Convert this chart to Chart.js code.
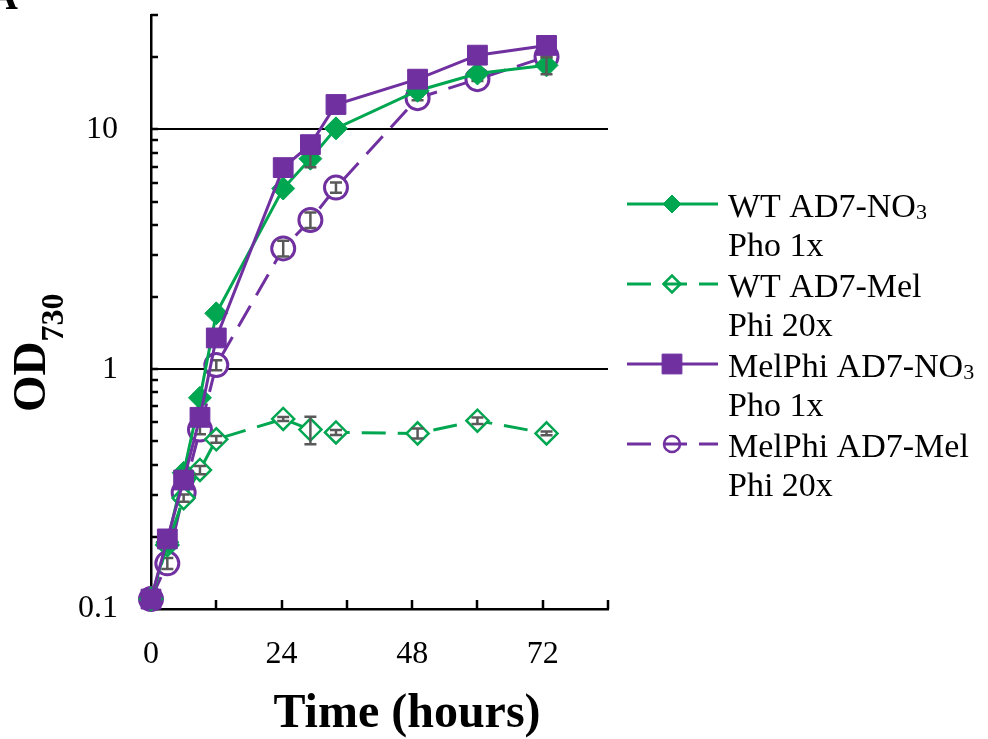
<!DOCTYPE html>
<html>
<head>
<meta charset="utf-8">
<script src="https://cdn.jsdelivr.net/npm/chart.js@4/dist/chart.umd.min.js"></script>
<style>
html,body{margin:0;padding:0;background:#fff;}
#wrap{width:988px;height:739px;position:relative;}
</style>
</head>
<body>
<div id="wrap"><canvas id="c" width="988" height="739"></canvas></div>
<script>
// ---- data ----
const hours    = [0, 3, 6, 9, 12, 24.3, 29.3, 34, 49, 60, 72.7];
const wtNO3    = [0.11, 0.19, 0.37, 0.76, 1.71, 5.67, 7.55, 10.1, 14.5, 17.1, 18.5];
const wtNO3Err = [0, 0, 0, 0, 0, 0, 0.6, 0, 0, 0, 1.5];
const wtMel    = [0.11, 0.185, 0.29, 0.38, 0.51, 0.62, 0.56, 0.545, 0.54, 0.61, 0.54];
const wtMelErr = [0, 0.005, 0.01, 0.015, 0.016, 0.012, 0.073, 0.013, 0.026, 0.019, 0.01];
const mpNO3    = [0.11, 0.196, 0.345, 0.63, 1.35, 6.93, 8.64, 12.7, 16.2, 20.4, 22.4];
const mpNO3Err = [0, 0, 0, 0, 0, 0, 0, 0, 0, 0, 0];
const mpMel    = [0.11, 0.155, 0.306, 0.56, 1.04, 3.19, 4.19, 5.72, 13.5, 16.2, 20.1];
const mpMelErr = [0, 0.008, 0.015, 0.025, 0.05, 0.24, 0.31, 0.28, 0.26, 0.3, 0.2];

const xTicks      = [0, 12, 24, 36, 48, 60, 72, 84];
const xTickLabels = ['0', '', '24', '', '48', '', '72', ''];
const yTicks      = [0.1,0.2,0.3,0.4,0.5,0.6,0.7,0.8,0.9,1,2,3,4,5,6,7,8,9,10,20,30];
const yTickLabels = {0.1:'0.1', 1:'1', 10:'10'};
const yGridValues = [1, 10];

const legendLabels = [
  ['WT AD7-NO₃', 'Pho 1x'],
  ['WT AD7-Mel', 'Phi 20x'],
  ['MelPhi AD7-NO₃', 'Pho 1x'],
  ['MelPhi AD7-Mel', 'Phi 20x']
];
const xTitle = 'Time (hours)';
const yTitleMain = 'OD';
const yTitleSub = '730';
const panelLetter = 'A';

// ---- styles ----
const GREEN = '#00A650';
const PURPLE = '#7030A0';
const ERRC = '#595959';
const SERIF = '"Liberation Serif", "Times New Roman", serif';

const valueSets = [wtNO3, wtMel, mpNO3, mpMel];
const errorSets = [wtNO3Err, wtMelErr, mpNO3Err, mpMelErr];
const toPts = arr => hours.map((h, i) => ({x: h, y: arr[i]}));

const styles = [
  {color: GREEN, dash: [], pointStyle: 'rectRot', r: 11.5, fill: GREEN, bw: 1, lr: 9, lbw: 1, lfill: GREEN, order: 2},
  {color: GREEN, dash: [24, 12], pointStyle: 'rectRot', r: 11, fill: '#ffffff', bw: 2.5, lr: 8.5, lbw: 2.5, lfill: 'rgba(0,0,0,0)', order: 3},
  {color: PURPLE, dash: [], pointStyle: 'rect', r: 14, fill: PURPLE, bw: 1, lr: 14, lbw: 1, lfill: PURPLE, order: 1},
  {color: PURPLE, dash: [24, 12], pointStyle: 'circle', r: 11.5, fill: '#ffffff', bw: 3, lr: 8, lbw: 2.5, lfill: 'rgba(0,0,0,0)', order: 4}
];

const datasets = valueSets.map((vals, i) => {
  const s = styles[i];
  return {
    label: legendLabels[i].join(' '),
    data: toPts(vals),
    borderColor: s.color,
    backgroundColor: s.color,
    borderWidth: 3,
    borderDash: s.dash,
    tension: 0,
    pointStyle: s.pointStyle,
    pointRadius: s.r,
    pointHoverRadius: s.r,
    pointBackgroundColor: s.fill,
    pointBorderColor: s.color,
    pointBorderWidth: s.bw,
    order: s.order,
    clip: false
  };
});

function drawTextWithSub(ctx, text, x, y, size) {
  const subMap = {'₀':'0','₁':'1','₂':'2','₃':'3','₄':'4','₅':'5','₆':'6','₇':'7','₈':'8','₉':'9'};
  let cx = x;
  for (const ch of text) {
    if (subMap[ch]) {
      ctx.font = `${Math.round(size * 0.66)}px ${SERIF}`;
      ctx.fillText(subMap[ch], cx, y + 2);
      cx += ctx.measureText(subMap[ch]).width;
    } else {
      ctx.font = `${size}px ${SERIF}`;
      ctx.fillText(ch, cx, y);
      cx += ctx.measureText(ch).width;
    }
  }
}

const customPlugin = {
  id: 'custom',
  beforeDatasetsDraw(chart) {
    const ctx = chart.ctx, xs = chart.scales.x, ys = chart.scales.y, a = chart.chartArea;
    ctx.save();
    ctx.strokeStyle = '#000';
    ctx.lineWidth = 2.5;
    ctx.beginPath();
    xTicks.forEach(v => {
      if (v === 0) return;
      const px = Math.round(xs.getPixelForValue(v));
      ctx.moveTo(px, a.bottom);
      ctx.lineTo(px, a.bottom - 9);
    });
    yTicks.forEach(v => {
      const py = Math.round(ys.getPixelForValue(v));
      ctx.moveTo(a.left, py);
      ctx.lineTo(a.left + 7, py);
    });
    ctx.stroke();
    ctx.restore();
  },
  afterDatasetDraw(chart, args) {
    const i = args.index;
    const errs = errorSets[i];
    const vals = valueSets[i];
    const ctx = chart.ctx, ys = chart.scales.y;
    ctx.save();
    ctx.strokeStyle = ERRC;
    ctx.lineWidth = 2.5;
    args.meta.data.forEach((pt, j) => {
      const e = errs[j];
      if (!e) return;
      const y1 = ys.getPixelForValue(vals[j] + e);
      const y2 = ys.getPixelForValue(vals[j] - e);
      const x = pt.x;
      ctx.beginPath();
      ctx.moveTo(x, y1); ctx.lineTo(x, y2);
      ctx.moveTo(x - 6, y1); ctx.lineTo(x + 6, y1);
      ctx.moveTo(x - 6, y2); ctx.lineTo(x + 6, y2);
      ctx.stroke();
    });
    ctx.restore();
  },
  afterDraw(chart) {
    const ctx = chart.ctx;
    ctx.save();
    ctx.fillStyle = '#000';
    const x0 = 627, x1 = 718, mx = 672, tx = 728;
    legendLabels.forEach((lines, i) => {
      const s = styles[i];
      const base = 217 + i * 80;
      const ly = base - 13;
      ctx.save();
      ctx.strokeStyle = s.color;
      ctx.lineWidth = 3;
      ctx.setLineDash(s.dash);
      ctx.beginPath();
      ctx.moveTo(x0, ly); ctx.lineTo(x1, ly);
      ctx.stroke();
      ctx.setLineDash([]);
      ctx.fillStyle = s.lfill;
      ctx.strokeStyle = s.color;
      ctx.lineWidth = s.lbw;
      Chart.helpers.drawPoint(ctx, {pointStyle: s.pointStyle, radius: s.lr, borderWidth: s.lbw, rotation: 0}, mx, ly);
      ctx.restore();
      ctx.fillStyle = '#000';
      ctx.textAlign = 'left';
      ctx.textBaseline = 'alphabetic';
      lines.forEach((t, k) => drawTextWithSub(ctx, t, tx, base + k * 39, 34));
    });
    ctx.font = `bold 48px ${SERIF}`;
    ctx.textAlign = 'center';
    ctx.textBaseline = 'alphabetic';
    ctx.fillText(xTitle, 407, 727);
    ctx.save();
    ctx.translate(45, 412);
    ctx.rotate(-Math.PI / 2);
    ctx.textAlign = 'left';
    ctx.font = `bold 47px ${SERIF}`;
    ctx.fillText(yTitleMain, 0, 0);
    const w = ctx.measureText(yTitleMain).width;
    ctx.font = `bold 32px ${SERIF}`;
    ctx.fillText(yTitleSub, w, 18);
    ctx.restore();
    ctx.font = `bold 40px ${SERIF}`;
    ctx.textAlign = 'left';
    ctx.fillText(panelLetter, -11, 9);
    ctx.restore();
  }
};

new Chart(document.getElementById('c'), {
  type: 'line',
  data: {datasets},
  plugins: [customPlugin],
  options: {
    responsive: false,
    animation: false,
    events: [],
    layout: {padding: {left: 0, top: 12, right: 380, bottom: 0}},
    plugins: {legend: {display: false}, tooltip: {enabled: false}, title: {display: false}},
    scales: {
      x: {
        type: 'linear',
        min: 0, max: 84,
        afterBuildTicks: sc => { sc.ticks = xTicks.map(v => ({value: v})); },
        afterFit: sc => { sc.height = 130; sc.paddingLeft = 0; sc.paddingRight = 0; },
        ticks: {
          autoSkip: false, maxRotation: 0,
          font: {family: SERIF, size: 32}, color: '#000', padding: 26,
          callback: (v) => { const k = xTicks.indexOf(v); return k >= 0 ? xTickLabels[k] : ''; }
        },
        grid: {display: false, drawTicks: false},
        border: {display: true, color: '#000', width: 2.5}
      },
      y: {
        type: 'logarithmic',
        min: 0.1, max: 30,
        afterBuildTicks: sc => { sc.ticks = yTicks.map(v => ({value: v})); },
        afterFit: sc => { sc.width = 151; sc.paddingTop = 0; sc.paddingBottom = 0; },
        ticks: {
          autoSkip: false,
          font: {family: SERIF, size: 32}, color: '#000', padding: 33,
          callback: (v) => yTickLabels[v] !== undefined ? yTickLabels[v] : ''
        },
        grid: {
          drawTicks: false,
          lineWidth: 2,
          color: c => (c.tick && yGridValues.includes(c.tick.value)) ? '#000' : 'rgba(0,0,0,0)'
        },
        border: {display: true, color: '#000', width: 2.5}
      }
    }
  }
});
</script>
</body>
</html>
